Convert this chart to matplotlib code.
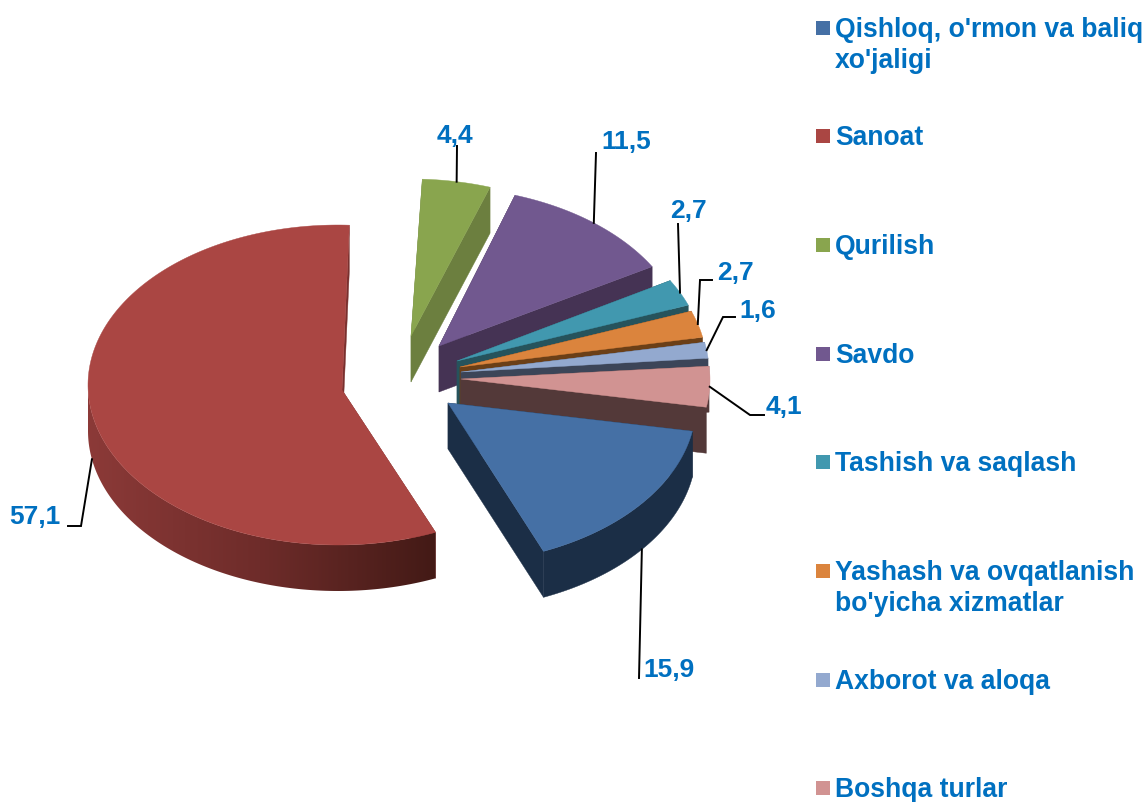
import numpy as np
import matplotlib
matplotlib.use('Agg')
import matplotlib.pyplot as plt
from matplotlib.patches import Polygon, Rectangle

names = ["Qishloq, o'rmon va baliq\nxo'jaligi", "Sanoat", "Qurilish", "Savdo",
         "Tashish va saqlash", "Yashash va ovqatlanish\nbo'yicha xizmatlar",
         "Axborot va aloqa", "Boshqa turlar"]
values = [15.9, 57.1, 4.4, 11.5, 2.7, 2.7, 1.6, 4.1]
labels = ['15,9', '57,1', '4,4', '11,5', '2,7', '2,7', '1,6', '4,1']

top_colors = ['#4570A5', '#AA4643', '#89A54E', '#71588F', '#4198AF', '#DB843D', '#93A9CF', '#D19392']
wall_colors = ['#1B2E46', '#7A302E', '#6C7F3F', '#453354', '#26535C', '#6B3F17', '#3C4558', '#533939']
text_color = '#0070C0'

# pie geometry in pixels, same order as the slices
start_angle = 99.8
rx, ry, depth = 250, 160, 46
apex_x = [448, 342, 411, 439, 457, 460, 461, 461]
apex_y = [403, 390, 336, 346, 361, 367, 372, 379]
shift_x = [-2, -4, 0, -3, -3, -3, -2, -1]
shift_y = [1, -5, 3, 1, 0, 0, 0, 1]
draw_order = [2, 3, 4, 5, 6, 7, 1, 0]

# label text position, elbow point and line start for each slice
label_xy = [(669, 670), (35, 517), (455, 136), (626, 142), (688, 211), (735, 273), (758, 311), (784, 407)]
elbow_xy = [None, (81, 526), None, None, None, (700, 280), (723, 317), (750, 415)]
line_start = [(639, 678), (68, 526), (457, 146), (596, 153), (678, 224), (712, 280), (735, 317), (764, 415)]
hang_below = [True, True, False, False, False, False, False, False]

legend_y = [28, 136, 245, 354, 462, 571, 680, 788]

plt.rcParams['font.family'] = ['Liberation Sans', 'DejaVu Sans']

fig = plt.figure(figsize=(11.48, 8.02), dpi=100)
ax = fig.add_axes([0, 0, 1, 1])
ax.set_xlim(0, 1148)
ax.set_ylim(802, 0)
ax.axis('off')


def rim(i, theta):
    t = np.radians(theta)
    x = apex_x[i] + shift_x[i] + rx*np.sin(t)
    y = apex_y[i] + shift_y[i] - ry*np.cos(t)
    return x, y


edges = start_angle + np.cumsum([0] + values)*3.6
ramp = np.linspace(0, 1, 340).reshape(1, -1)
sanoat_cmap = matplotlib.colors.LinearSegmentedColormap.from_list('sanoat', ['#8C3A38', '#6E2C2A', '#431A16'])

for i in draw_order:
    th = np.linspace(edges[i], edges[i+1], 200)
    xs, ys = rim(i, th)
    ax0, ay0 = apex_x[i], apex_y[i]

    # two flat side walls
    for k in (0, -1):
        side = [(ax0, ay0), (xs[k], ys[k]), (xs[k], ys[k]+depth), (ax0, ay0+depth)]
        ax.add_patch(Polygon(side, closed=True, fc=wall_colors[i], ec=wall_colors[i], lw=0.3))

    # outer wall only where it faces the viewer
    front = (th >= 90) & (th <= 270)
    if front.any():
        fx, fy = xs[front], ys[front]
        band = list(zip(fx, fy)) + list(zip(fx[::-1], fy[::-1]+depth))
        if i == 1:
            clip = Polygon(band, closed=True, transform=ax.transData)
            im = ax.imshow(ramp, cmap=sanoat_cmap, extent=(85, 436, 600, 380), aspect='auto', zorder=1)
            ax.set_xlim(0, 1148)
            ax.set_ylim(802, 0)
            im.set_clip_path(clip)
        else:
            ax.add_patch(Polygon(band, closed=True, fc=wall_colors[i], ec=wall_colors[i], lw=0.3))

    top = [(ax0, ay0)] + list(zip(xs, ys))
    ax.add_patch(Polygon(top, closed=True, fc=top_colors[i], ec=top_colors[i], lw=0.3))

# leader lines and data labels
for i in range(len(values)):
    mid = 0.5*(edges[i] + edges[i+1])
    ex, ey = rim(i, mid)
    if hang_below[i]:
        ey += depth
    px = [line_start[i][0]]
    py = [line_start[i][1]]
    if elbow_xy[i] is not None:
        px.append(elbow_xy[i][0])
        py.append(elbow_xy[i][1])
    px.append(ex)
    py.append(ey)
    ax.plot(px, py, color='black', lw=1.4, solid_joinstyle='miter', zorder=3)
    ax.text(label_xy[i][0], label_xy[i][1], labels[i], color=text_color, fontsize=19,
            fontweight='bold', ha='center', va='center', zorder=4)

# legend
for i, name in enumerate(names):
    ax.add_patch(Rectangle((816, legend_y[i]-7), 14, 14, fc=top_colors[i], ec='none'))
    ax.text(835, legend_y[i]-11, name, color=text_color, fontsize=19.1, fontweight='bold',
            ha='left', va='top', linespacing=1.25)

fig.savefig('out.png', dpi=100)
